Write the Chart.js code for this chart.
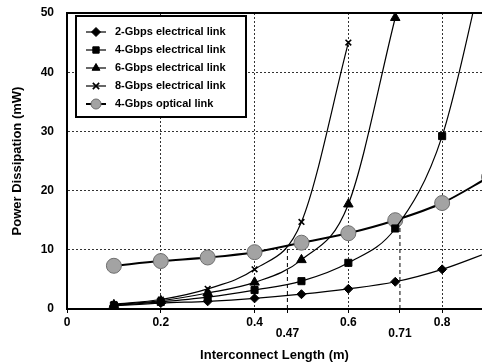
<!DOCTYPE html>
<html>
<head>
<meta charset="utf-8">
<script src="https://cdn.jsdelivr.net/npm/chart.js@4.4.0/dist/chart.umd.min.js"></script>
<style>
  html, body { margin: 0; padding: 0; background: #fff; }
  #wrap { width: 482px; height: 363px; }
</style>
</head>
<body>
<div id="wrap"><canvas id="powerChart" width="482" height="363"></canvas></div>
<script>
// interconnect length (m)
const lengths = [0.1, 0.2, 0.3, 0.4, 0.5, 0.6, 0.7, 0.8, 0.9];

// power dissipation (mW)
const elec2G = [0.5, 1.0, 1.3, 1.8, 2.5, 3.4, 4.6, 6.7, 9.6];
const elec4G = [0.6, 1.2, 2.0, 3.2, 4.7, 7.8, 13.6, 29.2, 62];
const elec6G = [0.7, 1.4, 2.7, 4.5, 8.3, 17.7, 49.2];
const elec8G = [0.8, 1.6, 3.4, 6.7, 14.7, 45];
const optical4G = [7.3, 8.1, 8.7, 9.6, 11.2, 12.8, 15.0, 17.9, 22.3];

// crossover lengths and where they meet the optical curve
const crossLengths = [0.47, 0.71];
const crossPower = [10.4, 14.3];

const xTickValues = [0, 0.2, 0.4, 0.47, 0.6, 0.71, 0.8];
const xTickLabels = ["0", "0.2", "0.4", "0.47", "0.6", "0.71", "0.8"];
const yTickValues = [0, 10, 20, 30, 40, 50];

const FONT = "'Liberation Sans', Arial, sans-serif";

function toPoints(ys) {
  return ys.map((y, i) => ({ x: lengths[i], y: y }));
}

function elecSet(label, ys, style, radius) {
  return {
    label: label,
    data: toPoints(ys),
    borderColor: "#000",
    backgroundColor: "#000",
    borderWidth: 1.2,
    pointStyle: style,
    pointRadius: radius,
    pointBorderWidth: style === "crossRot" ? 1.6 : 1,
    cubicInterpolationMode: "monotone",
  };
}

const datasets = [
  elecSet("2-Gbps electrical link", elec2G, "rectRot", 4.5),
  elecSet("4-Gbps electrical link", elec4G, "rect", 5),
  elecSet("6-Gbps electrical link", elec6G, "triangle", 5.5),
  elecSet("8-Gbps electrical link", elec8G, "crossRot", 4),
  {
    label: "4-Gbps optical link",
    data: toPoints(optical4G),
    borderColor: "#000",
    backgroundColor: "#a3a3a3",
    borderWidth: 2,
    pointStyle: "circle",
    pointRadius: 7.5,
    pointBorderColor: "#6e6e6e",
    pointBorderWidth: 1,
    cubicInterpolationMode: "monotone",
  },
];

// dashed drop lines at the crossover lengths
crossLengths.forEach((x, i) => {
  datasets.push({
    label: "",
    isDrop: true,
    data: [{ x: x, y: 0 }, { x: x, y: crossPower[i] }],
    borderColor: "#000",
    borderWidth: 1,
    borderDash: [4, 3],
    pointRadius: 0,
  });
});

// legend box drawn inside the plot
const boxLegend = {
  id: "boxLegend",
  afterDatasetsDraw(chart) {
    const ctx = chart.ctx;
    const left = 76, top = 16, w = 170, h = 101;
    ctx.save();
    ctx.fillStyle = "#fff";
    ctx.fillRect(left, top, w, h);
    ctx.strokeStyle = "#000";
    ctx.lineWidth = 2;
    ctx.strokeRect(left, top, w, h);
    ctx.font = "bold 11px " + FONT;
    ctx.textBaseline = "middle";
    chart.data.datasets.filter((d) => !d.isDrop).forEach((d, i) => {
      const y = top + 16 + i * 18;
      ctx.strokeStyle = "#000";
      ctx.lineWidth = d.borderWidth;
      ctx.beginPath();
      ctx.moveTo(86, y);
      ctx.lineTo(106, y);
      ctx.stroke();
      ctx.fillStyle = d.backgroundColor;
      ctx.strokeStyle = d.pointBorderColor || "#000";
      ctx.lineWidth = d.pointBorderWidth;
      Chart.helpers.drawPoint(ctx, {
        pointStyle: d.pointStyle,
        radius: d.pointStyle === "circle" ? 5 : 4.5,
        borderWidth: d.pointBorderWidth,
        rotation: 0,
      }, 96, y);
      ctx.fillStyle = "#000";
      ctx.fillText(d.label, 115, y);
    });
    ctx.restore();
  },
};

// solid top frame line
const topFrame = {
  id: "topFrame",
  afterDraw(chart) {
    const { ctx, chartArea } = chart;
    ctx.save();
    ctx.strokeStyle = "#000";
    ctx.lineWidth = 2;
    ctx.beginPath();
    ctx.moveTo(chartArea.left, chartArea.top);
    ctx.lineTo(chartArea.right, chartArea.top);
    ctx.stroke();
    ctx.restore();
  },
};

const ctx = document.getElementById("powerChart");

new Chart(ctx, {
  type: "line",
  data: { datasets: datasets },
  options: {
    responsive: false,
    animation: false,
    layout: { autoPadding: false, padding: { top: 13, right: 0, left: 0, bottom: 0 } },
    scales: {
      x: {
        type: "linear",
        min: 0,
        max: 0.885,
        afterBuildTicks: (scale) => {
          scale.ticks = xTickValues.map((v) => ({ value: v }));
        },
        afterFit: (scale) => {
          scale.height = 54;
          scale.paddingRight = 0;
        },
        ticks: {
          autoSkip: false,
          maxRotation: 0,
          color: "#000",
          padding: 4,
          font: { family: FONT, size: 12, weight: "bold", lineHeight: 0.95 },
          callback: (val, index) => {
            const lab = xTickLabels[index];
            return lab === "0.47" || lab === "0.71" ? ["", lab] : lab;
          },
        },
        grid: {
          color: (c) => {
            const v = c.tick ? c.tick.value : null;
            return v === 0.47 || v === 0.71 || v === 0 ? "rgba(0,0,0,0)" : "#333";
          },
          lineWidth: 1,
          tickLength: 4,
          tickColor: "#000",
        },
        border: { display: true, color: "#000", width: 2, dash: [2, 2] },
        title: {
          display: true,
          text: "Interconnect Length (m)",
          color: "#000",
          font: { family: FONT, size: 13, weight: "bold" },
          padding: { top: 4, bottom: 0 },
        },
      },
      y: {
        type: "linear",
        min: 0,
        max: 50,
        afterBuildTicks: (scale) => {
          scale.ticks = yTickValues.map((v) => ({ value: v }));
        },
        afterFit: (scale) => {
          scale.width = 67;
          scale.paddingTop = 0;
          scale.paddingBottom = 0;
        },
        ticks: {
          color: "#000",
          padding: 13,
          font: { family: FONT, size: 12, weight: "bold" },
        },
        grid: {
          color: (c) => {
            const v = c.tick ? c.tick.value : null;
            return v === 0 || v === 50 ? "rgba(0,0,0,0)" : "#333";
          },
          lineWidth: 1,
          drawTicks: false,
        },
        border: { display: true, color: "#000", width: 2, dash: [2, 2] },
        title: {
          display: true,
          text: "Power Dissipation (mW)",
          color: "#000",
          font: { family: FONT, size: 13, weight: "bold" },
          padding: { top: 10, bottom: 4 },
        },
      },
    },
    plugins: {
      legend: { display: false },
      tooltip: { enabled: false },
    },
  },
  plugins: [boxLegend, topFrame],
});
</script>
</body>
</html>
